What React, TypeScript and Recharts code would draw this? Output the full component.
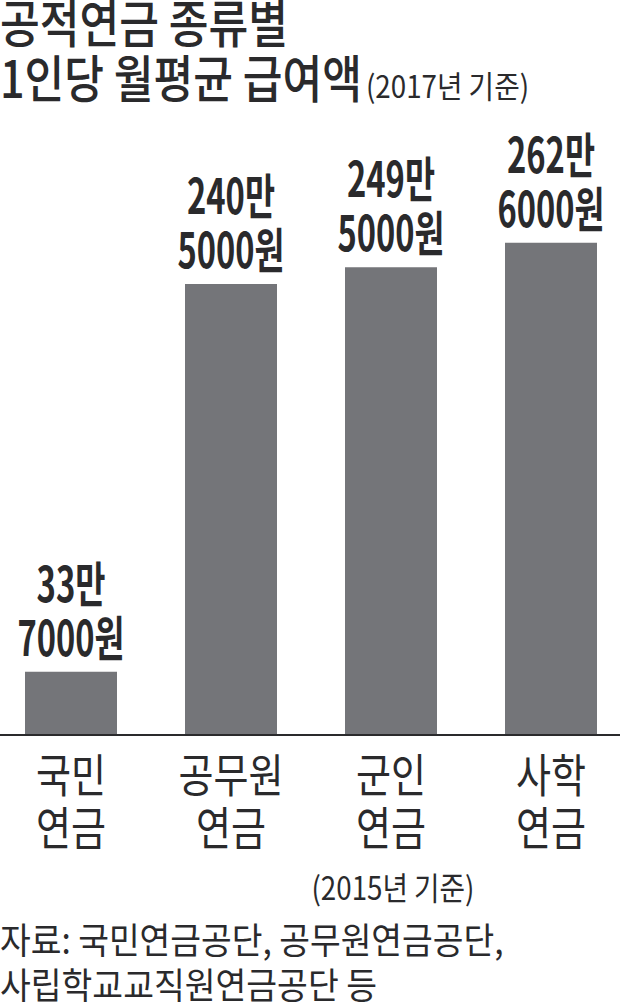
import { BarChart, Bar, XAxis, YAxis, LabelList } from 'recharts';

// 1인당 월평균 급여액, 단위: 만원
const categories = ['국민연금', '공무원연금', '군인연금', '사학연금'];
const amounts = [33.7, 240.5, 249.5, 262.6];
const tickLines = [
  ['국민', '연금'],
  ['공무원', '연금'],
  ['군인', '연금'],
  ['사학', '연금'],
];
const tickNotes = ['', '', '(2015년 기준)', ''];

const titleLines = ['공적연금 종류별', '1인당 월평균 급여액'];
const titleNote = '(2017년 기준)';
const sourceLines = ['자료: 국민연금공단, 공무원연금공단,', '사립학교교직원연금공단 등'];

const FONT = "'Noto Sans CJK KR', 'Noto Sans', sans-serif";
const TEXT = '#2a2a2c';
const BAR = '#747579';

// the original uses a condensed gothic, so squeeze text to its measured width
function fitLength(s: string, hangul: number, digit: number, space: number, other: number) {
  let w = 0;
  for (const ch of s) {
    if (/[가-힣]/.test(ch)) w += hangul;
    else if (/[0-9]/.test(ch)) w += digit;
    else if (ch === ' ') w += space;
    else w += other;
  }
  return w;
}

const data = categories.map((name, i) => ({ name, value: amounts[i] }));

const ValueLabel = (props: any) => {
  const { x, y, width, value } = props;
  const cx = Number(x) + Number(width) / 2;
  const top = Number(y);
  const total = Math.round(Number(value) * 10000);
  const line1 = `${Math.floor(total / 10000)}만`;
  const line2 = `${total % 10000}원`;
  return (
    <g>
      <text
        x={cx}
        y={top - 70}
        textAnchor="middle"
        fontFamily={FONT}
        fontWeight={700}
        fontSize={48}
        fill={TEXT}
        textLength={fitLength(line1, 31, 19, 10, 10)}
        lengthAdjust="spacingAndGlyphs"
      >
        {line1}
      </text>
      <text
        x={cx}
        y={top - 16}
        textAnchor="middle"
        fontFamily={FONT}
        fontWeight={700}
        fontSize={48}
        fill={TEXT}
        textLength={fitLength(line2, 31, 19, 10, 10)}
        lengthAdjust="spacingAndGlyphs"
      >
        {line2}
      </text>
    </g>
  );
};

const CategoryTick = (props: any) => {
  const { x, y, index } = props;
  const lines = tickLines[index] || [];
  const note = tickNotes[index];
  return (
    <g>
      {lines.map((line, i) => (
        <text
          key={i}
          x={x}
          y={y + 57 + i * 53}
          textAnchor="middle"
          fontFamily={FONT}
          fontSize={46}
          fill={TEXT}
          textLength={fitLength(line, 35, 20, 10, 10)}
          lengthAdjust="spacingAndGlyphs"
        >
          {line}
        </text>
      ))}
      {note && (
        <text
          x={x + 2}
          y={y + 165}
          textAnchor="middle"
          fontFamily={FONT}
          fontSize={32}
          fill={TEXT}
          textLength={fitLength(note, 27, 14, 8, 9)}
          lengthAdjust="spacingAndGlyphs"
        >
          {note}
        </text>
      )}
    </g>
  );
};

export default function App() {
  const line1W = fitLength(titleLines[1], 38, 22, 18, 10);
  return (
    <div
      style={{
        position: 'absolute',
        left: 0,
        top: 0,
        width: 620,
        height: 1005,
        overflow: 'hidden',
        background: '#fff',
      }}
    >
      <div style={{ position: 'absolute', left: -9, top: 0 }}>
        <BarChart width={640} height={1005} data={data} margin={{ top: 135, right: 0, bottom: 0, left: 0 }}>
          <XAxis
            dataKey="name"
            height={270}
            axisLine={{ stroke: '#2a2a2c', strokeWidth: 2 }}
            tickLine={false}
            tickSize={0}
            tickMargin={0}
            interval={0}
            tick={<CategoryTick />}
          />
          <YAxis hide domain={[0, 320]} />
          <Bar dataKey="value" fill={BAR} barSize={92} isAnimationActive={false}>
            <LabelList dataKey="value" content={<ValueLabel />} />
          </Bar>
        </BarChart>
      </div>
      <svg
        width={620}
        height={1005}
        style={{ position: 'absolute', left: 0, top: 0, pointerEvents: 'none' }}
      >
        <text
          x={0}
          y={43}
          fontFamily={FONT}
          fontWeight={500}
          fontSize={51}
          fill={TEXT}
          textLength={fitLength(titleLines[0], 38, 22, 22, 10)}
          lengthAdjust="spacingAndGlyphs"
        >
          {titleLines[0]}
        </text>
        <text
          x={0}
          y={98}
          fontFamily={FONT}
          fontWeight={500}
          fontSize={51}
          fill={TEXT}
          textLength={line1W}
          lengthAdjust="spacingAndGlyphs"
        >
          {titleLines[1]}
        </text>
        <text
          x={line1W + 4}
          y={98}
          fontFamily={FONT}
          fontSize={31}
          fill={TEXT}
          textLength={fitLength(titleNote, 27, 14, 8, 9)}
          lengthAdjust="spacingAndGlyphs"
        >
          {titleNote}
        </text>
        {sourceLines.map((line, i) => (
          <text
            key={i}
            x={0}
            y={954 + i * 45}
            fontFamily={FONT}
            fontSize={36}
            fill={TEXT}
            textLength={fitLength(line, 30.5, 18, 11, 8)}
            lengthAdjust="spacingAndGlyphs"
          >
            {line}
          </text>
        ))}
      </svg>
    </div>
  );
}
